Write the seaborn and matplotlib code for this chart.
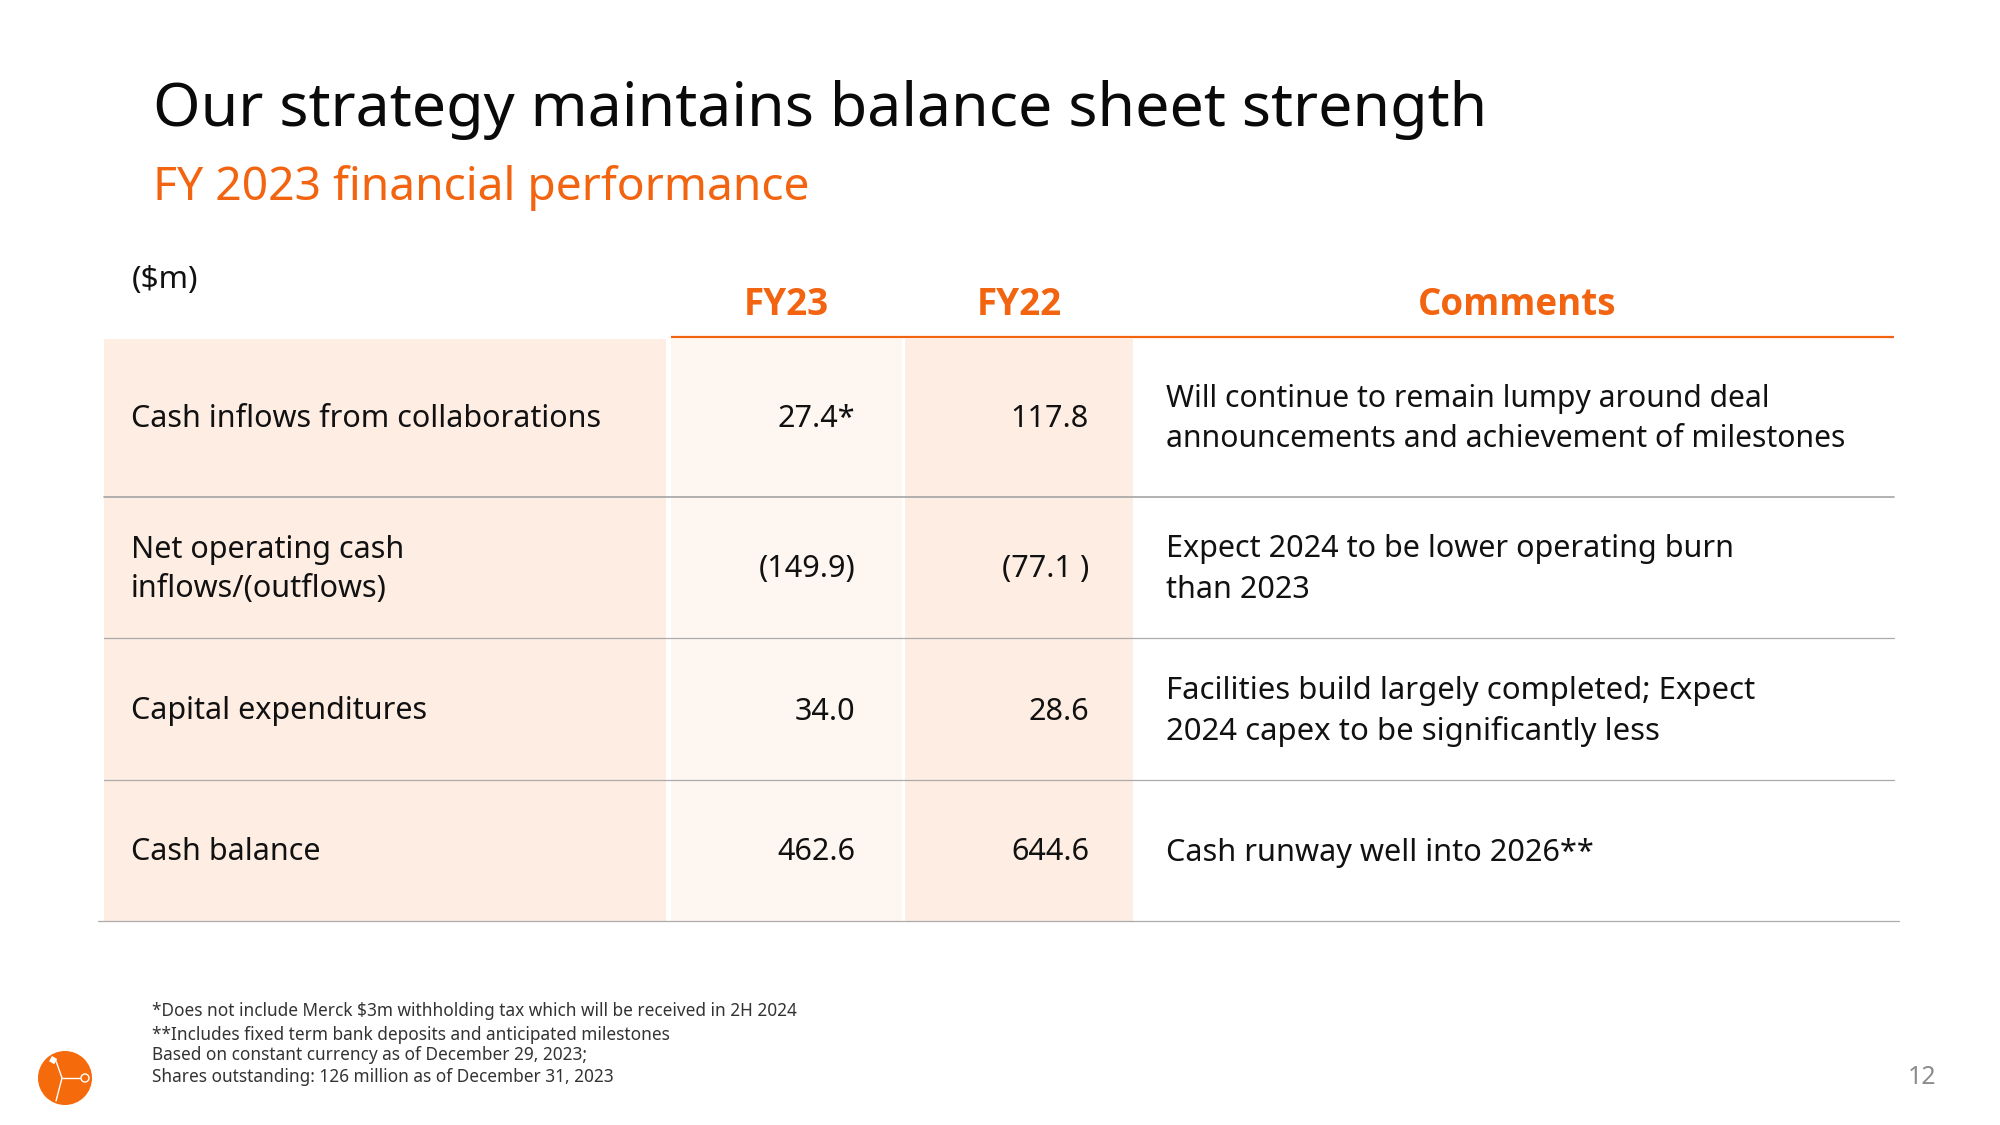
import pandas as pd
import matplotlib.pyplot as plt
import seaborn as sns
from matplotlib.colors import LinearSegmentedColormap
from matplotlib.patches import Circle, Rectangle

sns.set_theme(style='white')
plt.rcParams['font.family'] = ['Noto Sans', 'DejaVu Sans']

# Table contents
row_labels = ['Cash inflows from collaborations', 'Net operating cash\ninflows/(outflows)',
              'Capital expenditures', 'Cash balance']
fy23 = ['27.4*', '(149.9)', '34.0', '462.6']
fy22 = ['117.8', '(77.1 )', '28.6', '644.6']
comments = [
    ['Will continue to remain lumpy around deal', 'announcements and achievement of milestones'],
    ['Expect 2024 to be lower operating burn', 'than 2023'],
    ['Facilities build largely completed; Expect', '2024 capex to be significantly less'],
    ['Cash runway well into 2026**'],
]
footnotes = ['*Does not include Merck $3m withholding tax which will be received in 2H 2024',
             '**Includes fixed term bank deposits and anticipated milestones',
             'Based on constant currency as of December 29, 2023;',
             'Shares outstanding: 126 million as of December 31, 2023']

# Shading strength of each table column, one value per row
shade_labels = [1.0, 1.0, 1.0, 1.0]
shade_fy23 = [0.5, 0.5, 0.5, 0.5]
shade_fy22 = [1.0, 1.0, 1.0, 1.0]

ORANGE = '#F26410'
GREY = '#ABABAB'
INK = '#111111'
W, H = 2000, 1125
shade_cmap = LinearSegmentedColormap.from_list('shade', ['#FFFFFF', '#FEEDE3'])

fig = plt.figure(figsize=(20, 11.25), dpi=100, facecolor='white')

# Shaded table columns
col_spans = [(104, 666, shade_labels), (671, 902, shade_fy23), (905, 1133, shade_fy22)]
for x0, x1, shade in col_spans:
    ax_col = fig.add_axes([x0 / W, 1 - 921 / H, (x1 - x0) / W, (921 - 339) / H])
    sns.heatmap(pd.DataFrame({'shade': shade}), ax=ax_col, cmap=shade_cmap, vmin=0, vmax=1,
                cbar=False, xticklabels=False, yticklabels=False)

# Everything else sits on a transparent overlay measured in pixels
ax = fig.add_axes([0, 0, 1, 1], zorder=5)
ax.set_xlim(0, W)
ax.set_ylim(H, 0)
ax.axis('off')
ax.patch.set_alpha(0)

ax.text(153, 110, 'Our strategy maintains balance sheet strength', fontsize=43.9, color='#0A0A0A',
        va='center', ha='left')
ax.text(153, 188, 'FY 2023 financial performance', fontsize=33.3, color=ORANGE, va='center', ha='left')
ax.text(132, 280, '($m)', fontsize=22.7, color=INK, va='center', ha='left')

for label, x in zip(['FY23', 'FY22', 'Comments'], [786, 1019.5, 1517]):
    ax.text(x, 305, label, fontsize=26.5, color=ORANGE, fontweight='bold', family='Open Sans',
            va='center', ha='center')

ax.plot([671, 1894], [337, 337], color=ORANGE, lw=1.6, solid_capstyle='butt')
ax.plot([104, 1894], [497, 497], color=GREY, lw=1.3)
ax.plot([104, 1894], [638, 638], color=GREY, lw=0.9)
ax.plot([104, 1894], [779.5, 779.5], color=GREY, lw=0.9)
ax.plot([98, 1899], [920.5, 920.5], color=GREY, lw=0.9)

row_y = [419, 569.5, 711.5, 852.5]
comment_sizes = [21.7, 22, 22.4, 22.1]
for y, label, a, b, comment, size in zip(row_y, row_labels, fy23, fy22, comments, comment_sizes):
    ax.text(131, y, label, fontsize=22, color=INK, va='center', ha='left', linespacing=1.38)
    ax.text(855, y, a, fontsize=22, color=INK, va='center', ha='right')
    ax.text(1089, y, b, fontsize=22, color=INK, va='center', ha='right')
    offset = 20.3 if len(comment) == 2 else 0
    for i, line in enumerate(comment):
        ax.text(1166, y - offset + 2 * offset * i, line, fontsize=size, color=INK, va='center', ha='left')

for y, note in zip([1011.5, 1034.5, 1054.5, 1077.5], footnotes):
    ax.text(152, y, note, fontsize=12.4, color='#333333', va='center', ha='left')

ax.text(1936, 1078, '12', fontsize=18, color='#8C8C8C', va='center', ha='right')

# Logo
ax.add_patch(Circle((65, 1078), 27, color='#F56A0A', lw=0))
ax.plot([62, 56], [1078, 1061], color='white', lw=1)
ax.plot([62, 80], [1078, 1078], color='white', lw=1)
ax.plot([62, 56], [1078, 1101], color='white', lw=1)
ax.add_patch(Rectangle((52, 1056), 6, 6, angle=30, color='white', lw=0))
ax.add_patch(Circle((85, 1078), 4, facecolor='#F56A0A', edgecolor='white', lw=1))

fig.savefig('out.png', dpi=100, facecolor='white')
